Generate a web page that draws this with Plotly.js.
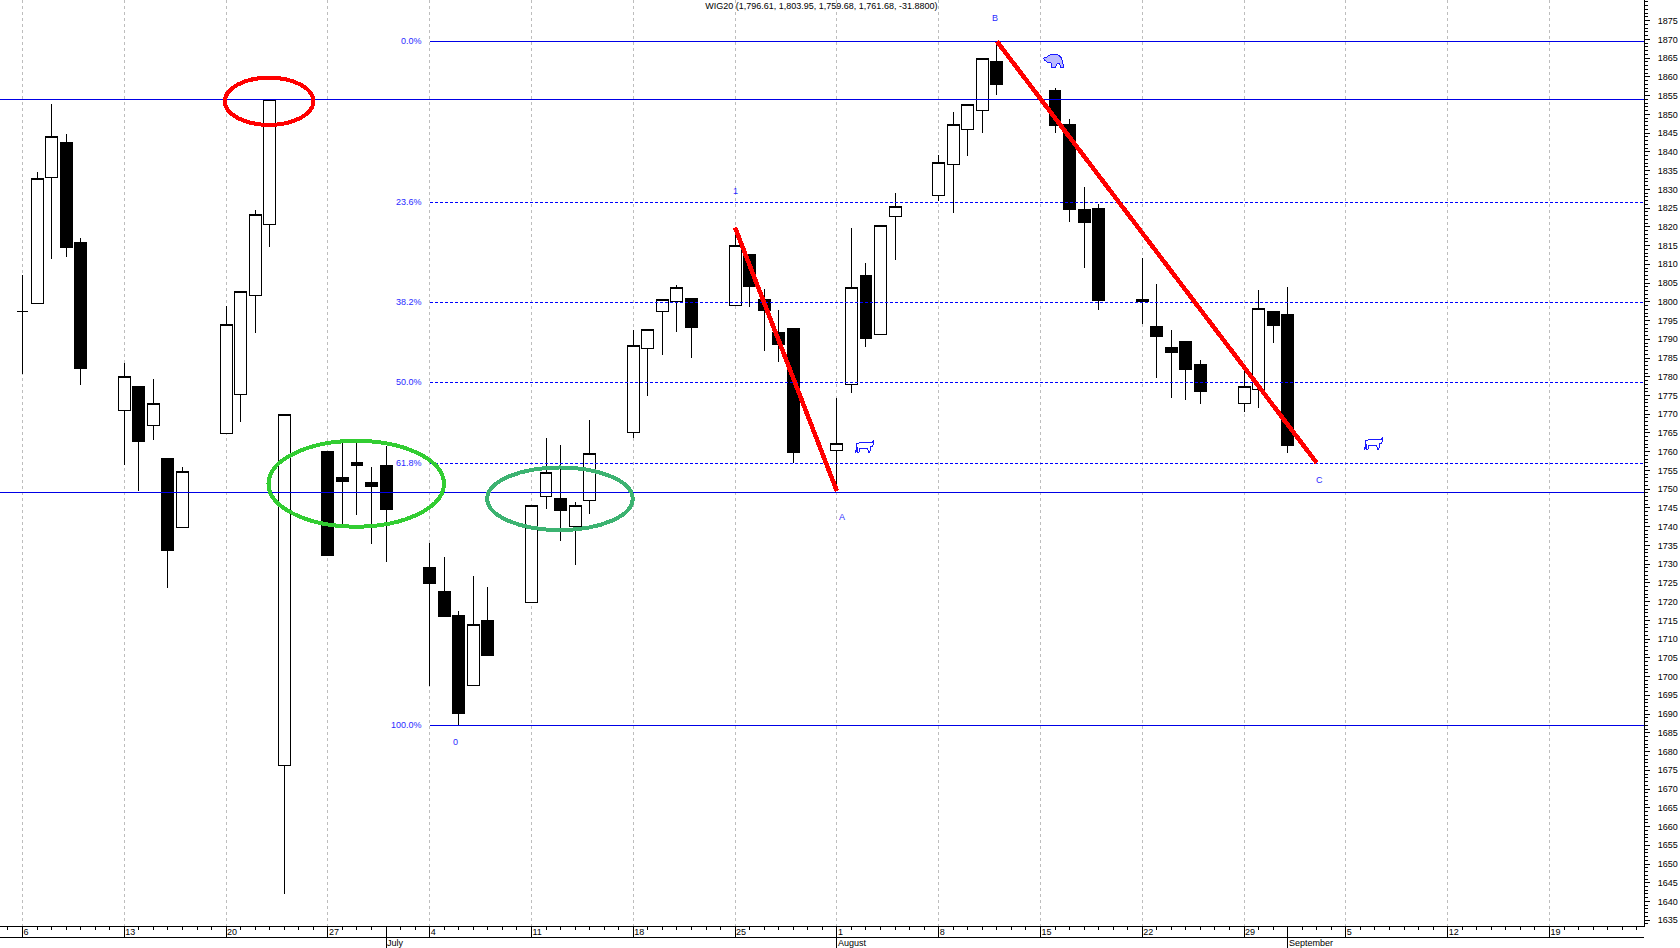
<!DOCTYPE html>
<html>
<head>
<meta charset="utf-8">
<script src="https://cdn.plot.ly/plotly-3.0.1.min.js"></script>
<style>
html,body{margin:0;padding:0;background:#fff;overflow:hidden}
#chart{width:1680px;height:948px}
#chart svg path{shape-rendering:crispEdges}
</style>
</head>
<body>
<div id="chart"></div>
<script>
const titleText = 'WIG20 (1,796.61, 1,803.95, 1,759.68, 1,761.68, -31.8800)';

const dates = ['2011-06-06','2011-06-07','2011-06-08','2011-06-09','2011-06-10','2011-06-13','2011-06-14','2011-06-15','2011-06-16','2011-06-17',
'2011-06-20','2011-06-21','2011-06-22','2011-06-23','2011-06-24','2011-06-27','2011-06-28','2011-06-29','2011-06-30','2011-07-01',
'2011-07-04','2011-07-05','2011-07-06','2011-07-07','2011-07-08','2011-07-11','2011-07-12','2011-07-13','2011-07-14','2011-07-15',
'2011-07-18','2011-07-19','2011-07-20','2011-07-21','2011-07-22','2011-07-25','2011-07-26','2011-07-27','2011-07-28','2011-07-29',
'2011-08-01','2011-08-02','2011-08-03','2011-08-04','2011-08-05','2011-08-08','2011-08-09','2011-08-10','2011-08-11','2011-08-12',
'2011-08-16','2011-08-17','2011-08-18','2011-08-19','2011-08-22','2011-08-23','2011-08-24','2011-08-25','2011-08-26',
'2011-08-29','2011-08-30','2011-08-31','2011-09-01'];
const opens = [1797.5,1799.6,1833.1,1842.6,1815.7,1771.0,1777.3,1767.0,1758.3,1739.8,
1764.9,1775.3,1801.7,1820.7,1676.3,1760.0,1753.0,1757.2,1751.9,1756.4,
1729.0,1722.8,1716.4,1697.7,1715.1,1719.8,1748.1,1747.4,1740.1,1747.0,
1765.2,1787.5,1797.5,1800.0,1800.9,1798.9,1812.5,1800.7,1791.7,1792.9,
1760.4,1778.0,1806.9,1791.3,1822.8,1828.4,1836.7,1846.0,1851.1,1864.0,
1856.5,1847.4,1824.7,1825.0,1800.5,1793.5,1787.9,1789.3,1783.4,
1772.9,1776.5,1797.5,1796.61];
const highs = [1807.1,1834.5,1852.9,1844.8,1817.0,1783.7,1777.3,1779.4,1758.3,1756.0,
1798.9,1802.8,1824.5,1854.0,1770.0,1760.0,1762.2,1762.2,1755.8,1761.5,
1735.6,1731.9,1717.5,1726.8,1723.9,1745.7,1763.7,1761.8,1746.6,1768.5,
1792.5,1792.7,1800.7,1804.5,1800.9,1819.8,1812.8,1803.4,1797.8,1792.9,
1774.4,1819.6,1810.3,1820.4,1829.0,1839.2,1850.6,1852.7,1865.0,1869.5,
1857.0,1848.8,1830.5,1826.1,1811.6,1804.7,1792.4,1789.3,1784.6,
1782.0,1803.1,1797.5,1803.95];
const lows = [1780.7,1799.6,1811.5,1812.0,1777.9,1756.5,1749.6,1763.2,1723.7,1739.8,
1764.9,1768.0,1791.8,1814.7,1642.1,1732.3,1739.6,1743.2,1735.4,1730.6,
1697.6,1716.0,1687.0,1697.7,1705.6,1719.8,1744.8,1736.3,1729.9,1743.5,
1763.7,1775.0,1785.9,1792.0,1785.1,1798.9,1798.7,1787.0,1784.0,1756.9,
1749.8,1775.8,1788.0,1791.3,1811.2,1827.0,1823.8,1839.0,1845.1,1855.3,
1845.1,1821.4,1809.1,1797.8,1794.2,1779.8,1774.4,1773.9,1772.8,
1770.7,1771.7,1789.1,1759.68];
const closes = [1797.5,1832.9,1844.1,1814.4,1782.2,1780.1,1762.7,1772.9,1733.6,1754.8,
1794.0,1802.8,1823.2,1854.0,1770.0,1732.3,1752.0,1756.2,1750.6,1744.5,
1724.8,1716.0,1690.1,1713.8,1705.6,1745.7,1754.5,1744.3,1745.7,1759.6,
1788.4,1792.7,1800.7,1803.9,1793.1,1815.0,1804.0,1797.6,1788.6,1759.8,
1762.2,1803.8,1790.2,1820.4,1825.5,1837.2,1847.3,1852.7,1865.0,1858.0,
1847.0,1824.6,1821.1,1800.3,1800.0,1790.7,1786.4,1781.9,1776.0,
1777.4,1798.2,1793.6,1761.68];

const xStart = '2011-06-04 10:53';
const xEnd = '2011-09-25 12:00';
const yLow = 1633.46, yHigh = 1880.52;

const fibStart = '2011-07-04';
const fibLabels = ['0.0%','23.6%','38.2%','50.0%','61.8%','100.0%'];
const fibLevels = [1869.5,1826.5,1799.9,1778.5,1756.9,1687.0];
const fibSolid = [true,false,false,false,false,true];
const supportLevels = [1854.0,1749.2];

const redLines = [
  {x:['2011-07-25','2011-08-01'], y:[1819.8,1749.5]},
  {x:['2011-08-12','2011-09-03'], y:[1869.5,1757.0]}
];

const waveLabels = ['B','1','A','0','C'];
const waveDates = ['2011-08-11 21:00','2011-07-25 01:00','2011-08-01 08:00','2011-07-05 19:00','2011-09-03 05:00'];
const waveValues = [1875.7,1829.5,1742.7,1682.5,1752.5];

const ovalColors = ['#ff0000','#32cd32','#3cb371'];
const ovalFrom = ['2011-06-19 22:00','2011-06-22 22:00','2011-07-07 23:00'];
const ovalTo = ['2011-06-26 00:00','2011-07-04 23:30','2011-07-17 23:00'];
const ovalTop = [1859.8,1762.9,1755.8];
const ovalBottom = [1847.2,1740.0,1739.1];

const mondays = ['2011-06-06','2011-06-13','2011-06-20','2011-06-27','2011-07-04','2011-07-11','2011-07-18','2011-07-25','2011-08-01','2011-08-08','2011-08-15','2011-08-22','2011-08-29','2011-09-05','2011-09-12','2011-09-19'];
const mondayLabels = ['6','13','20','27','4','11','18','25','1','8','15','22','29','5','12','19'];
const monthNames = ['July','August','September'];
const monthDates = ['2011-07-01','2011-08-01','2011-09-01'];
const priceTicks = [1635,1640,1645,1650,1655,1660,1665,1670,1675,1680,1685,1690,1695,1700,1705,1710,1715,1720,1725,1730,1735,1740,1745,1750,1755,1760,1765,1770,1775,1780,1785,1790,1795,1800,1805,1810,1815,1820,1825,1830,1835,1840,1845,1850,1855,1860,1865,1870,1875];

const bullIcon = 'M-9,-6 L-8,3 L-5,4 L4,4 L7,4 L9,6 L9,3 L8,1 L6,0 L5,-6 L4,-6 L3,-2 L-5,-2 L-6,-6 L-7,-6 L-7,-1 L-8,-1 Z';
const bearIcon = 'M-10,3 L-7,4 L-4,6 L1,7 L5,6 L8,3 L9,-1 L10,-6 L7,-6 L6,-2 L3,-3 L2,-6 L-2,-6 L-2,-2 L-6,-1 L-9,1 Z';
const iconPaths = [bullIcon,bullIcon,bearIcon];
const iconDates = ['2011-08-02 22:00','2011-09-06 22:00','2011-08-15 21:36'];
const iconValues = [1761.3,1762.1,1864.2];
const iconFills = ['rgba(255,255,255,0.6)','rgba(255,255,255,0.6)','rgba(60,60,255,0.35)'];

const blue = '#0000e6';
const labelBlue = '#2a2aff';
const fontFamily = '"Liberation Sans", Arial, sans-serif';

const traces = [{
  type:'candlestick', x:dates, open:opens, high:highs, low:lows, close:closes,
  increasing:{line:{color:'#000',width:1}, fillcolor:'#fff'},
  decreasing:{line:{color:'#000',width:1}, fillcolor:'#000'},
  whiskerwidth:0, hoverinfo:'skip', showlegend:false
}];
fibLevels.forEach((lv,i)=>traces.push({
  type:'scatter', mode:'lines', x:[fibStart,xEnd], y:[lv,lv],
  line:{color:fibSolid[i]?blue:'#0000ff', width:1, dash:fibSolid[i]?'solid':'3px,2px'},
  hoverinfo:'skip', showlegend:false
}));
supportLevels.forEach(lv=>traces.push({
  type:'scatter', mode:'lines', x:[xStart,xEnd], y:[lv,lv],
  line:{color:blue, width:1}, hoverinfo:'skip', showlegend:false
}));
redLines.forEach(s=>traces.push({
  type:'scatter', mode:'lines', x:s.x, y:s.y,
  line:{color:'#ff0000', width:4.5}, hoverinfo:'skip', showlegend:false
}));

const shapes = [];
ovalColors.forEach((c,i)=>shapes.push({
  type:'circle', xref:'x', yref:'y', x0:ovalFrom[i], x1:ovalTo[i], y0:ovalBottom[i], y1:ovalTop[i],
  line:{color:c,width:4}, layer:'above'
}));
iconPaths.forEach((p,i)=>shapes.push({
  type:'path', xref:'x', yref:'y', xsizemode:'pixel', ysizemode:'pixel',
  xanchor:iconDates[i], yanchor:iconValues[i], path:p,
  line:{color:'#1a1aff',width:1}, fillcolor:iconFills[i], layer:'above'
}));
const rowLine = -11.3/926, rowEnd = -22/926;
shapes.push({type:'line', xref:'x', yref:'paper', x0:xStart, x1:xEnd, y0:rowLine, y1:rowLine, line:{color:'#000',width:1}});
monthDates.forEach(d=>shapes.push({type:'line', xref:'x', yref:'paper', x0:d, x1:d, y0:0, y1:rowEnd, line:{color:'#000',width:1}}));

const annotations = [];
const addText = (text,x,y,extra)=>annotations.push(Object.assign({text,x,y,xref:'x',yref:'y',showarrow:false,font:{family:fontFamily,size:9,color:labelBlue}},extra||{}));
fibLabels.forEach((t,i)=>addText(t,fibStart,fibLevels[i],{xanchor:'right',xshift:-6}));
waveLabels.forEach((t,i)=>addText(t,waveDates[i],waveValues[i]));
monthNames.forEach((t,i)=>annotations.push({
  text:t, x:monthDates[i], y:-17/926, xref:'x', yref:'paper', xanchor:'left', yanchor:'middle', xshift:-1,
  showarrow:false, font:{family:fontFamily,size:9,color:'#000'}
}));

const layout = {
  width:1680, height:948,
  margin:{l:0,r:35.7,t:0,b:22,pad:0},
  paper_bgcolor:'#fff', plot_bgcolor:'#fff',
  showlegend:false, hovermode:false, dragmode:false,
  boxgap:0.18, boxgroupgap:0,
  title:{text:titleText, x:0.4996, xanchor:'center', y:0.9937, yanchor:'middle', xref:'paper', yref:'container',
         font:{family:fontFamily,size:9,color:'#000'}},
  xaxis:{
    type:'date', range:[xStart,xEnd], rangeslider:{visible:false},
    tickmode:'array', tickvals:mondays, ticktext:mondayLabels,
    ticks:'outside', ticklen:11, tickwidth:1, tickcolor:'#000',
    ticklabelposition:'outside right', ticklabelstandoff:-3,
    tickfont:{family:fontFamily,size:9,color:'#000'}, tickangle:0,
    showgrid:true, gridcolor:'#bdbdbd', gridwidth:1, griddash:'3px,3px',
    showline:true, linecolor:'#000', linewidth:1, zeroline:false,
    minor:{dtick:86400000, tick0:'2011-06-06', ticks:'outside', ticklen:3, tickwidth:1, tickcolor:'#000', showgrid:false}
  },
  yaxis:{
    side:'right', range:[yLow,yHigh], tickmode:'array', tickvals:priceTicks, ticktext:priceTicks.map(String),
    ticks:'outside', ticklen:5, tickwidth:1, tickcolor:'#000',
    ticklabelstandoff:6,
    tickfont:{family:fontFamily,size:9,color:'#000'},
    showgrid:false, showline:true, linecolor:'#000', linewidth:1, zeroline:false,
    minor:{dtick:1, tick0:0, ticks:'outside', ticklen:3, tickwidth:1, tickcolor:'#000', showgrid:false}
  },
  shapes, annotations
};
Plotly.newPlot('chart', traces, layout, {displayModeBar:false, staticPlot:true, responsive:false});
</script>
</body>
</html>
